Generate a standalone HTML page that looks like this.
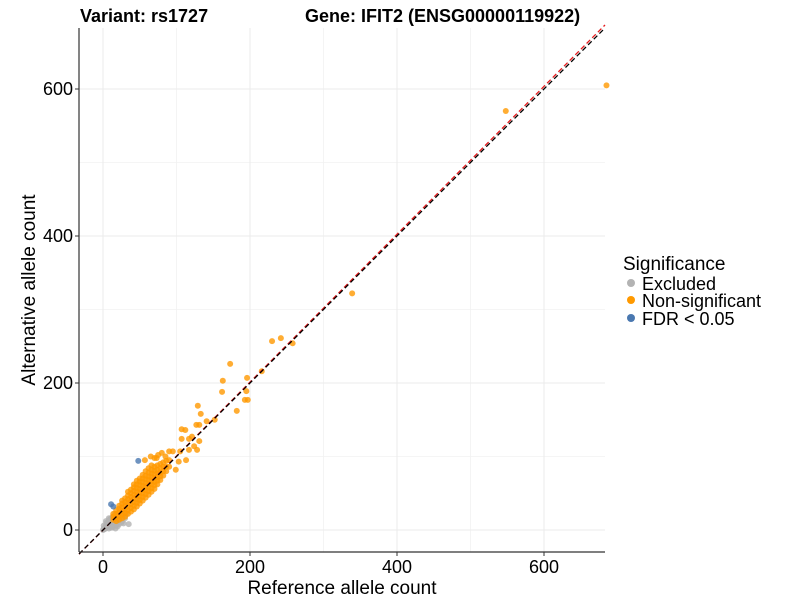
<!DOCTYPE html>
<html><head><meta charset="utf-8"><style>
body{margin:0;background:#fff;}
svg{display:block;font-family:"Liberation Sans",Arial,sans-serif;}
</style></head><body>
<svg id="chart" width="800" height="600">
<text x="80" y="22" font-size="18" font-weight="bold">Variant: rs1727</text>
<text x="305" y="22" font-size="18" font-weight="bold">Gene: IFIT2 (ENSG00000119922)</text>
<g id="grid"></g>
<g id="pts"></g>
<g id="lines"></g>
<g id="axes"></g>
<text x="342" y="594" font-size="19" text-anchor="middle">Reference allele count</text>
<text transform="translate(35,290) rotate(-90)" font-size="19" text-anchor="middle">Alternative allele count</text>
<g>
<text x="623" y="270" font-size="19">Significance</text>
<circle cx="631" cy="283" r="4" fill="#b3b3b3"/>
<text x="642" y="290" font-size="18">Excluded</text>
<circle cx="631" cy="300" r="4" fill="#ff9900"/>
<text x="642" y="307" font-size="18">Non-significant</text>
<circle cx="631" cy="318" r="4" fill="#4a78b0"/>
<text x="642" y="325" font-size="18">FDR &lt; 0.05</text>
</g>
</svg>
<script>
const xTicks=[0,200,400,600];
const yTicks=[0,200,400,600];
const minorTicks=[100,300,500];
const grayX=[0,2,4,6,8,10,12,5,7,9,11,13,15,3,6,9,14,16,18,8,10,12,17,20,22,4,7,11,15,19,24,26,13,16,21,28,35,1,3,5,9,18,22,26,30,14,17,20,25,29,32,1,4,8];
const grayY=[0,1,3,5,2,4,6,8,10,7,9,12,11,2,4,6,14,10,13,12,15,3,8,12,14,6,9,16,11,17,15,20,18,22,19,9,8,2,4,10,14,6,8,12,16,4,2,5,10,18,22,6,12,16];
const orangeX=[685,548,339,242,230,258,173,163,162,196,216,195,193,197,182,129,133,141,152,127,131,107,112,117,121,107,131,124,128,117,90,95,105,73,113,103,99,57,65,75,80,70,85,
14,14,14,
18,18,18,18,
22,22,22,22,22,
26,26,26,26,26,26,
30,30,30,30,30,30,
34,34,34,34,34,34,34,
38,38,38,38,38,38,38,
42,42,42,42,42,42,42,42,
46,46,46,46,46,46,46,46,
50,50,50,50,50,50,50,50,
54,54,54,54,54,54,54,54,
58,58,58,58,58,58,58,58,
62,62,62,62,62,62,62,62,
66,66,66,66,66,66,66,66,
70,70,70,70,70,70,70,
74,74,74,74,74,74,
78,78,78,78,78,
82,82,82,82,
86,86,86,
90,90];
const orangeY=[605,570,322,261,257,254,226,203,188,207,216,189,177,177,162,169,158,148,150,143,143,137,136,124,127,124,121,114,109,109,107,107,107,98,95,93,82,95,100,102,105,98,100,
14,18,22,
12,17,22,27,
14,19,24,29,33,
16,21,26,31,36,40,
18,23,28,33,38,43,
22,27,32,37,42,47,52,
25,30,35,40,45,50,55,
28,33,38,43,48,53,58,62,
32,37,42,47,52,57,62,67,
36,41,46,51,56,61,66,70,
40,45,50,55,60,65,70,75,
44,49,54,59,64,69,74,80,
48,53,58,63,68,73,78,84,
52,57,62,67,72,77,82,88,
56,61,66,71,76,81,86,
62,67,72,77,82,88,
68,73,78,84,90,
74,80,86,92,
80,86,94,
86,95];
const blueX=[48,11,14];
const blueY=[94,35,32];
const X0=103,Y0=530,S=0.735,L=79,R=605,T=28,B=552;
const sx=v=>X0+v*S, sy=v=>Y0-v*S;
const NS='http://www.w3.org/2000/svg';
function mk(t,a,p){const e=document.createElementNS(NS,t);for(const k in a)e.setAttribute(k,a[k]);p.appendChild(e);return e;}
const grid=document.getElementById('grid');
minorTicks.forEach(v=>{
 let g=mk('line',{x1:sx(v),x2:sx(v),y1:T,y2:B,stroke:'#f2f2f2','stroke-width':0.8},grid);
 
 
 let h=mk('line',{x1:L,x2:R,y1:sy(v),y2:sy(v),stroke:'#f2f2f2','stroke-width':0.8},grid);
 
 
});
xTicks.forEach(v=>{
 let g=mk('line',{x1:sx(v),x2:sx(v),y1:T,y2:B,stroke:'#ebebeb','stroke-width':1},grid);
 
 
});
yTicks.forEach(v=>{
 let g=mk('line',{x1:L,x2:R,y1:sy(v),y2:sy(v),stroke:'#ebebeb','stroke-width':1},grid);
 
 
});
const pts=document.getElementById('pts');
function draw(xs,ys,col,name){xs.forEach((x,i)=>{
 let c=mk('circle',{cx:sx(x),cy:sy(ys[i]),r:3,fill:col,'fill-opacity':0.8},pts);
 
 
});}
draw(grayX,grayY,'#b3b3b3','excluded-point');
draw(orangeX,orangeY,'#ff9900','nonsignificant-point');
draw(blueX,blueY,'#4a78b0','fdr-point');
const lines=document.getElementById('lines');
const xmin=(L-X0)/S, xmax=(R-X0)/S;
let rl=mk('line',{x1:sx(xmin),y1:sy(xmin*1.006),x2:sx(xmax),y2:sy(xmax*1.006),stroke:'#e41a1c','stroke-width':1.3,'stroke-dasharray':'5,3'},lines);


let bl=mk('line',{x1:sx(xmin),y1:sy(xmin),x2:sx(xmax),y2:sy(xmax),stroke:'#000','stroke-width':1.3,'stroke-dasharray':'5,3'},lines);


const axes=document.getElementById('axes');
mk('line',{x1:L,x2:L,y1:T,y2:B,stroke:'#333','stroke-width':1.2},axes);
mk('line',{x1:L,x2:R,y1:B,y2:B,stroke:'#333','stroke-width':1.2},axes);
xTicks.forEach(v=>{
 mk('line',{x1:sx(v),x2:sx(v),y1:B,y2:B+4,stroke:'#333'},axes);
 let t=mk('text',{x:sx(v),y:B+21,'font-size':18,'text-anchor':'middle'},axes);t.textContent=v;
 
 
});
yTicks.forEach(v=>{
 mk('line',{x1:L-4,x2:L,y1:sy(v),y2:sy(v),stroke:'#333'},axes);
 let t=mk('text',{x:L-6,y:sy(v)+6,'font-size':18,'text-anchor':'end'},axes);t.textContent=v;
 
 
});
</script>
</body></html>
